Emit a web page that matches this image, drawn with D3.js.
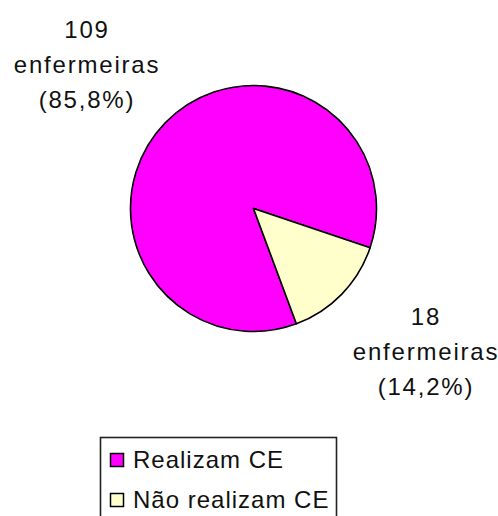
<!DOCTYPE html>
<html>
<head>
<meta charset="utf-8">
<script src="https://cdn.jsdelivr.net/npm/d3@7"></script>
<style>
  html, body { margin: 0; padding: 0; background: #fff; }
  svg { display: block; }
  text { font-family: "Liberation Sans", Arial, sans-serif; fill: #111; }
</style>
</head>
<body>
<svg id="chart" width="498" height="516"></svg>
<script>
const categories = ["Realizam CE", "Não realizam CE"];
const counts = [109, 18];
const percents = ["85,8%", "14,2%"];
const unitLabel = "enfermeiras";
const colors = ["#FF00FF", "#FFFFCC"];

const svg = d3.select("#chart");
const cx = 253.5, cy = 208.5, r = 123;
const start = 159.6 * Math.PI / 180;

const pie = d3.pie().sort(null).value(d => d)
  .startAngle(start).endAngle(start + 2 * Math.PI);
const arcs = pie(counts);
const arc = d3.arc().innerRadius(0).outerRadius(r);

const g = svg.append("g").attr("transform", `translate(${cx},${cy})`);
g.selectAll("path").data(arcs).enter().append("path")
  .attr("d", arc)
  .attr("fill", (d, i) => colors[i])
  .attr("stroke", "#000")
  .attr("stroke-width", 1.6)
  .attr("stroke-linejoin", "round");

// data labels
const labelPos = [{x: 86, y: 38}, {x: 425, y: 325}];
arcs.forEach((a, i) => {
  const lines = [String(counts[i]), unitLabel, `(${percents[i]})`];
  const t = svg.append("text")
    .attr("text-anchor", "middle")
    .attr("font-size", 24)
    .attr("letter-spacing", 1.8);
  lines.forEach((s, k) => {
    t.append("tspan")
      .attr("x", labelPos[i].x + 1)
      .attr("y", labelPos[i].y + k * 35)
      .text(s);
  });
});

// legend
const lg = svg.append("g");
lg.append("rect")
  .attr("x", 100.5).attr("y", 437.5)
  .attr("width", 236).attr("height", 100)
  .attr("fill", "#fff").attr("stroke", "#222").attr("stroke-width", 1.6);
categories.forEach((c, i) => {
  const y = 453 + i * 40;
  lg.append("rect")
    .attr("x", 110.5).attr("y", y + 0.5)
    .attr("width", 13).attr("height", 13)
    .attr("fill", colors[i]).attr("stroke", "#000").attr("stroke-width", 1.5);
  lg.append("text")
    .attr("x", 133).attr("y", y + 15)
    .attr("font-size", 24)
    .attr("letter-spacing", 1)
    .text(c);
});
</script>
</body>
</html>
